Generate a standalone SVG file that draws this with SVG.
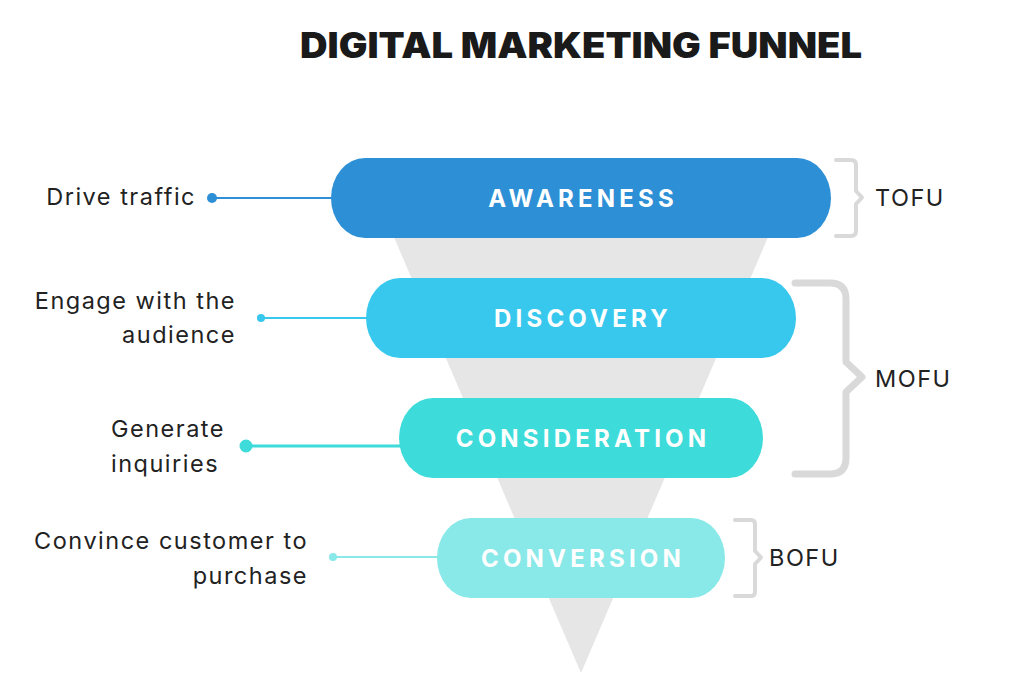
<svg xmlns="http://www.w3.org/2000/svg" width="1024" height="677" viewBox="0 0 1024 677">
<style>
.lbl{font-family:Inter,"Liberation Sans",sans-serif;font-size:23.5px;fill:#222;letter-spacing:1.5px}
.pill{font-family:Inter,"Liberation Sans",sans-serif;font-size:24px;font-weight:700;fill:#fff;letter-spacing:4.2px;text-anchor:middle}
.br{fill:none;stroke:#d9d9d9;stroke-linecap:round;stroke-linejoin:round}
</style>
<rect width="1024" height="677" fill="#fff"/>
<text x="581" y="58" text-anchor="middle" font-family="Inter,'Liberation Sans',sans-serif" font-weight="900" font-size="35" fill="#1a1a1a" textLength="562" lengthAdjust="spacingAndGlyphs">DIGITAL MARKETING FUNNEL</text>
<g id="funnel"><polygon points="378,200 784,200 581,673" fill="#e6e6e6"/></g>
<g id="connectors">
<line x1="212" y1="198" x2="340" y2="198" stroke="#2d8fd5" stroke-width="2"/>
<circle cx="212" cy="198" r="5" fill="#2d8fd5"/>
<line x1="261" y1="318" x2="375" y2="318" stroke="#38c8ee" stroke-width="2"/>
<circle cx="261" cy="318" r="4" fill="#38c8ee"/>
<line x1="246" y1="446" x2="408" y2="446" stroke="#3ddbd9" stroke-width="3"/>
<circle cx="246" cy="446" r="6.5" fill="#3ddbd9"/>
<line x1="333" y1="557" x2="446" y2="557" stroke="#89e8e8" stroke-width="2"/>
<circle cx="333" cy="557" r="4" fill="#89e8e8"/>
</g>
<g id="awareness"><rect x="331" y="158" width="500" height="80" rx="34" ry="40" fill="#2d8fd5"/><text class="pill" x="583" y="207">AWARENESS</text></g>
<g id="discovery"><rect x="366" y="278" width="430" height="80" rx="34" ry="40" fill="#38c8ee"/><text class="pill" x="583" y="327">DISCOVERY</text></g>
<g id="consideration"><rect x="399" y="398" width="364" height="80" rx="34" ry="40" fill="#3ddbd9"/><text class="pill" x="583" y="447">CONSIDERATION</text></g>
<g id="conversion"><rect x="437" y="518" width="288" height="80" rx="34" ry="40" fill="#89e8e8"/><text class="pill" x="583" y="567">CONVERSION</text></g>
<g id="labels-left">
<text class="lbl" x="196" y="205" text-anchor="end">Drive traffic</text>
<text class="lbl" x="236" y="309" text-anchor="end">Engage with the</text>
<text class="lbl" x="236" y="343" text-anchor="end">audience</text>
<text class="lbl" x="111" y="437">Generate</text>
<text class="lbl" x="111" y="472">inquiries</text>
<text class="lbl" x="308" y="549" text-anchor="end">Convince customer to</text>
<text class="lbl" x="308" y="584" text-anchor="end">purchase</text>
</g>
<g id="tofu">
<path class="br" stroke-width="4" d="M836,160 H851 Q856,160 856,165 V191 L862,197.5 L856,204 V231 Q856,236 851,236 H836"/>
<text class="lbl" x="875" y="206">TOFU</text>
</g>
<g id="mofu">
<path class="br" stroke-width="7" d="M795,283 H830 Q846,283 846,299 V362 L862,377 L846,392 V458 Q846,474 830,474 H795"/>
<text class="lbl" x="875" y="387">MOFU</text>
</g>
<g id="bofu">
<path class="br" stroke-width="4" d="M735,520 H751 Q755,520 755,524 V551 L761,557.5 L755,564 V592 Q755,596 751,596 H735"/>
<text class="lbl" x="769" y="566">BOFU</text>
</g>
</svg>
